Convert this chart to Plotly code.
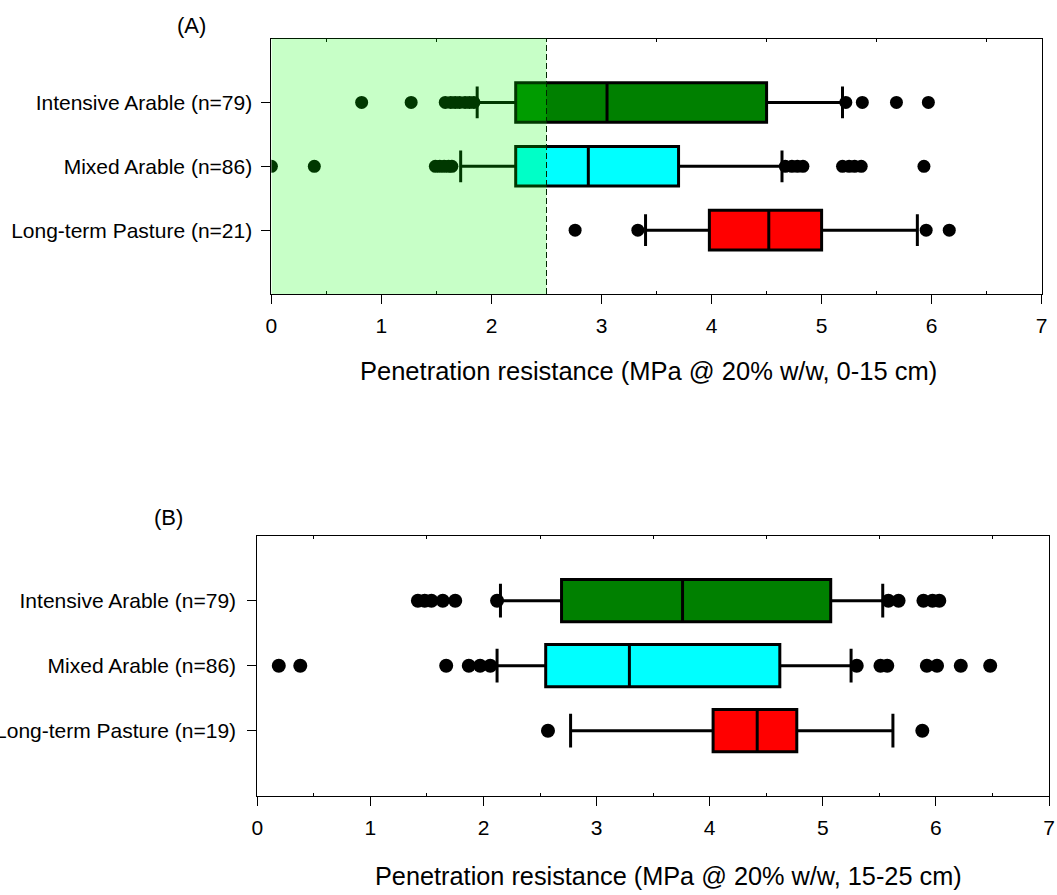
import plotly.graph_objects as go

# ---------------- data ----------------
categories_a = ["Intensive Arable (n=79)", "Mixed Arable (n=86)", "Long-term Pasture (n=21)"]
categories_b = ["Intensive Arable (n=79)", "Mixed Arable (n=86)", "Long-term Pasture (n=19)"]
box_colors = ["#008000", "#00FFFF", "#FF0000"]
x_ticks = [0, 1, 2, 3, 4, 5, 6, 7]
minor_ticks = [0.5, 1.5, 2.5, 3.5, 4.5, 5.5, 6.5]

# Panel A: 0-15 cm
a_q1 = [2.22, 2.22, 3.98]
a_median = [3.05, 2.88, 4.52]
a_q3 = [4.50, 3.70, 5.00]
a_lower = [1.87, 1.72, 3.40]
a_upper = [5.19, 4.64, 5.87]
a_outliers_intensive = [0.82, 1.27, 1.58, 1.63, 1.67, 1.71, 1.76, 1.80, 1.84, 5.22, 5.37, 5.68, 5.97]
a_outliers_mixed = [0.0, 0.39, 1.49, 1.53, 1.57, 1.61, 1.64, 4.67, 4.73, 4.78, 4.83, 5.19, 5.25, 5.30, 5.36, 5.93]
a_outliers_pasture = [2.76, 3.33, 5.95, 6.16]
threshold = 2.5

# Panel B: 15-25 cm
b_q1 = [2.69, 2.55, 4.03]
b_median = [3.76, 3.29, 4.42]
b_q3 = [5.07, 4.62, 4.77]
b_lower = [2.15, 2.12, 2.77]
b_upper = [5.53, 5.25, 5.62]
b_outliers_intensive = [1.42, 1.48, 1.54, 1.64, 1.75, 2.12, 5.58, 5.67, 5.89, 5.97, 6.03]
b_outliers_mixed = [0.19, 0.38, 1.67, 1.87, 1.97, 2.06, 5.30, 5.51, 5.57, 5.92, 6.01, 6.22, 6.48]
b_outliers_pasture = [2.57, 5.88]

# ---------------- figure ----------------
W, H = 1057, 895
FONT = "Liberation Sans, Arial, sans-serif"
fig = go.Figure()

panels = [
    dict(xa="x", ya="y", q1=a_q1, med=a_median, q3=a_q3, lo=a_lower, hi=a_upper,
         outs=[a_outliers_intensive, a_outliers_mixed, a_outliers_pasture], bw=0.62, ms=13),
    dict(xa="x2", ya="y2", q1=b_q1, med=b_median, q3=b_q3, lo=b_lower, hi=b_upper,
         outs=[b_outliers_intensive, b_outliers_mixed, b_outliers_pasture], bw=0.65, ms=14),
]

for p in panels:
    for i in range(3):
        fig.add_trace(go.Box(
            y=[i + 1], q1=[p["q1"][i]], median=[p["med"][i]], q3=[p["q3"][i]],
            lowerfence=[p["lo"][i]], upperfence=[p["hi"][i]],
            orientation="h", fillcolor=box_colors[i],
            line=dict(color="black", width=3), width=p["bw"], whiskerwidth=0.8,
            boxpoints=False, showlegend=False, hoverinfo="skip",
            xaxis=p["xa"], yaxis=p["ya"]))
        outs = p["outs"][i]
        fig.add_trace(go.Scatter(
            x=outs, y=[i + 1] * len(outs), mode="markers",
            marker=dict(color="black", size=p["ms"]),
            showlegend=False, hoverinfo="skip", xaxis=p["xa"], yaxis=p["ya"]))

# dummy traces to carry top minor-tick axes
fig.add_trace(go.Scatter(x=[None], y=[None], xaxis="x3", yaxis="y", showlegend=False, hoverinfo="skip"))
fig.add_trace(go.Scatter(x=[None], y=[None], xaxis="x4", yaxis="y2", showlegend=False, hoverinfo="skip"))

dom_ax = [271.4 / W, 1041.7 / W]
dom_bx = [257.3 / W, 1049.0 / W]
dom_ay = [1 - 294.0 / H, 1 - 38.6 / H]
dom_by = [1 - 795.7 / H, 1 - 535.7 / H]

def xaxis(domain, anchor, size, standoff):
    return dict(domain=domain, anchor=anchor, range=[0, 7], tickmode="array", tickvals=x_ticks,
                ticks="outside", ticklen=9, tickwidth=1, tickcolor="black",
                showline=True, linecolor="black", linewidth=1, mirror=True,
                showgrid=False, zeroline=False, automargin=False, ticklabelstandoff=standoff,
                tickfont=dict(family=FONT, size=size, color="black"),
                minor=dict(tickmode="array", tickvals=minor_ticks, ticks="inside", ticklen=3,
                           tickcolor="black", showgrid=False))

def topaxis(domain, overl, anchor):
    return dict(domain=domain, overlaying=overl, anchor=anchor, side="top", range=[0, 7],
                tickmode="array", tickvals=minor_ticks, ticks="inside", ticklen=3,
                tickcolor="black", showticklabels=False, showline=False, showgrid=False,
                zeroline=False, automargin=False)

def yaxis(domain, anchor, labels, size, standoff):
    return dict(domain=domain, anchor=anchor, range=[4, 0], tickmode="array", tickvals=[1, 2, 3],
                ticktext=labels, ticks="outside", ticklen=9, tickwidth=1, tickcolor="black",
                showline=True, linecolor="black", linewidth=1, mirror=True,
                showgrid=False, zeroline=False, automargin=False, ticklabelstandoff=standoff,
                tickfont=dict(family=FONT, size=size, color="black"))

fig.update_layout(
    width=W, height=H, margin=dict(l=0, r=0, t=0, b=0),
    paper_bgcolor="white", plot_bgcolor="white",
    font=dict(family=FONT, color="black"),
    xaxis=xaxis(dom_ax, "y", 21, 4),
    yaxis=yaxis(dom_ay, "x", categories_a, 21, 5),
    xaxis2=xaxis(dom_bx, "y2", 21, 4),
    yaxis2=yaxis(dom_by, "x2", categories_b, 21, 7),
    xaxis3=topaxis(dom_ax, "x", "y"),
    xaxis4=topaxis(dom_bx, "x2", "y2"),
)

# shaded region (< 2.5 MPa) in panel A
fig.add_shape(type="rect", xref="x", yref="y domain", x0=0, x1=threshold, y0=0, y1=1,
              fillcolor="rgba(0,255,0,0.22)", line=dict(width=0), layer="above")
fig.add_shape(type="line", xref="x", yref="y domain", x0=threshold, x1=threshold, y0=0, y1=1,
              line=dict(color="rgba(0,40,0,1)", width=1, dash="6px,3px"), layer="above")

# labels and axis titles
def label(text, px, py, size):
    fig.add_annotation(text=text, xref="paper", yref="paper", x=px / W, y=1 - py / H,
                       xanchor="center", yanchor="middle", showarrow=False,
                       font=dict(family=FONT, size=size, color="black"))

label("(A)", 191, 25, 22)
label("(B)", 168, 517, 22)
label("Penetration resistance (MPa @ 20% w/w, 0-15 cm)", 648.5, 371, 25.5)
label("Penetration resistance (MPa @ 20% w/w, 15-25 cm)", 668.5, 876, 25.3)

fig.write_html("out.html", post_script="document.body.style.margin='0';",
               config={"displayModeBar": False})
